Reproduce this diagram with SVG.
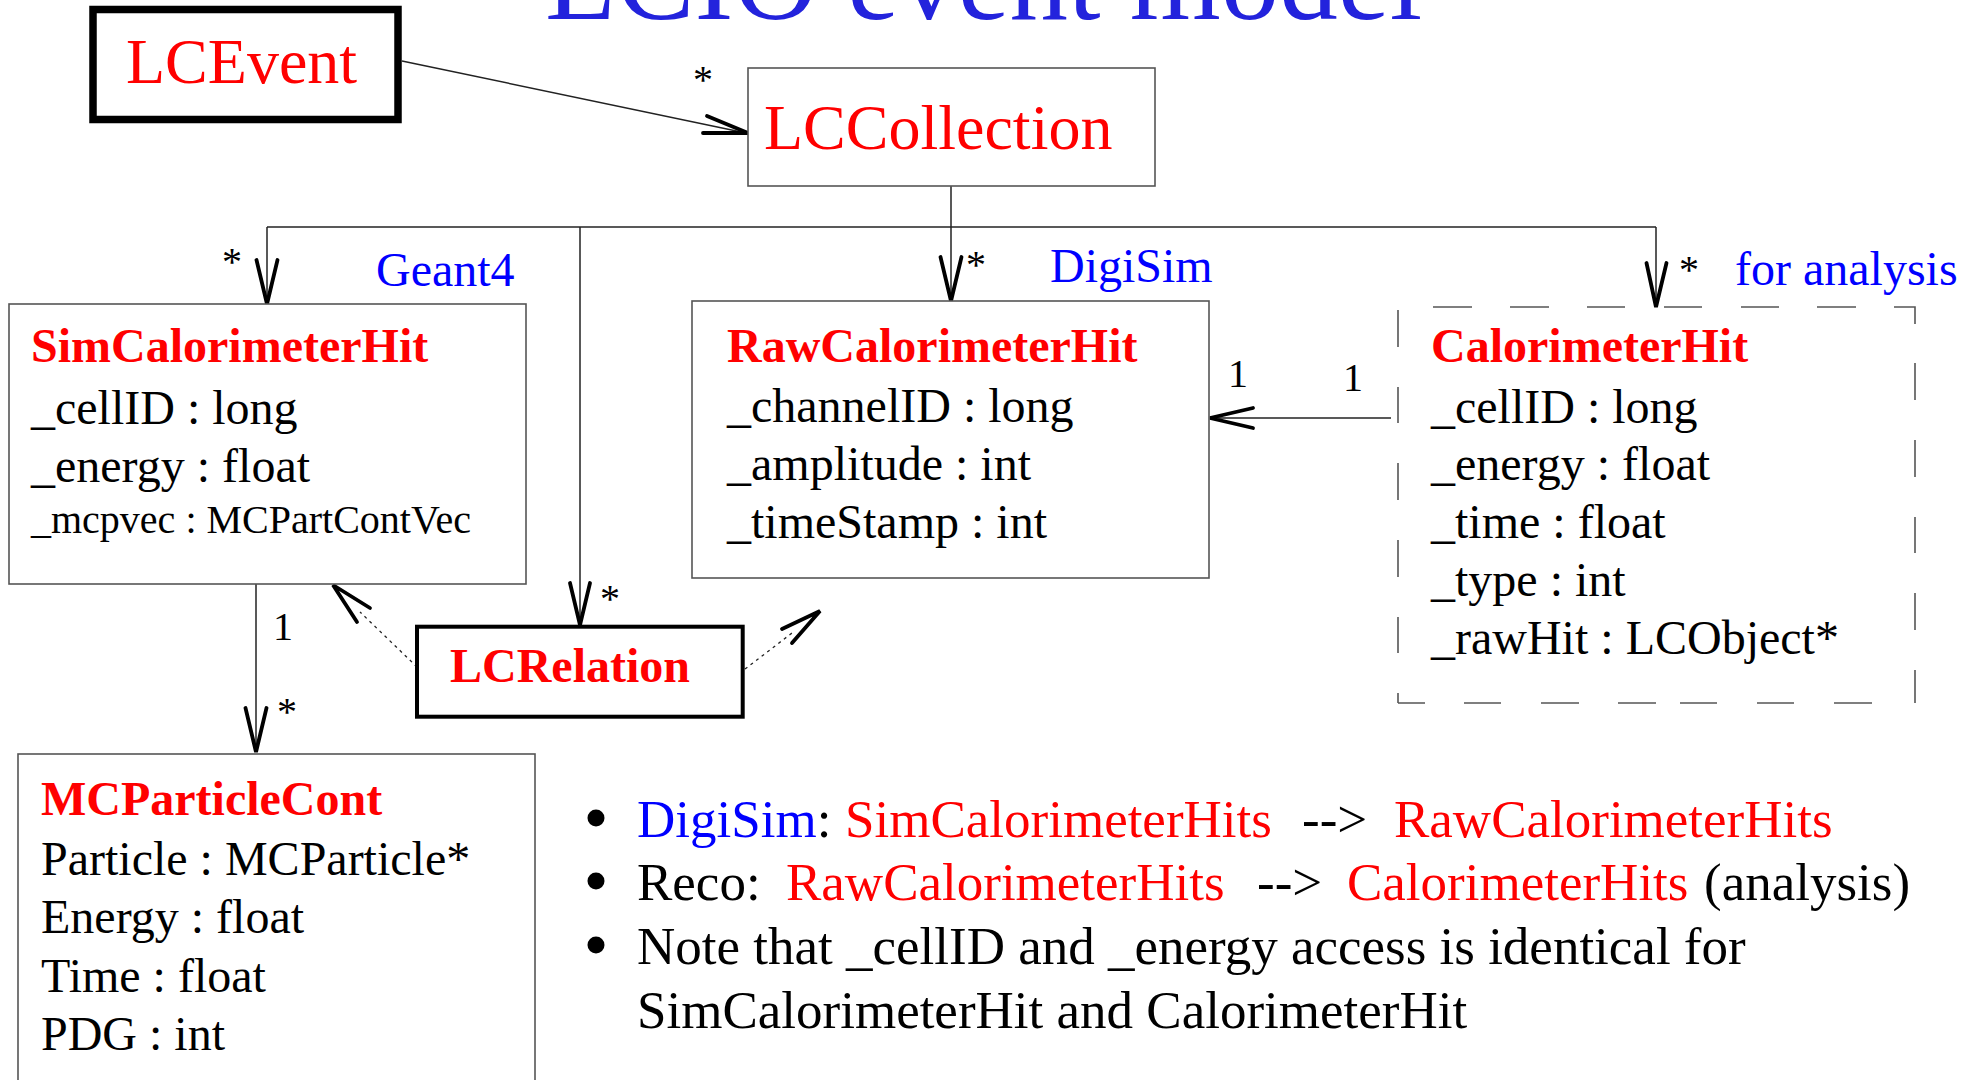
<svg xmlns="http://www.w3.org/2000/svg" width="1973" height="1080" viewBox="0 0 1973 1080">
<style>
text{font-family:"Liberation Serif","Times New Roman",serif;fill:#000}
.title{font-size:117px;fill:#2323dc}
.big{font-size:64px;fill:#ff0000}
.name{font-size:48px;font-weight:bold;fill:#ff0000}
.attr{font-size:48px}
.small{font-size:40px}
.lab{font-size:48px;fill:#0000ff}
.mult{font-size:40px}
.bul{font-size:53px}
.red{fill:#ff0000}
.blue{fill:#0000ff}
.box{fill:#fff;stroke:#555;stroke-width:1.6}
.thick{fill:#fff;stroke:#000}
.line{fill:none;stroke:#222;stroke-width:1.5}
.dot{fill:none;stroke:#222;stroke-width:1.3;stroke-dasharray:3 4}
.head{fill:none;stroke:#000;stroke-width:3.8;stroke-linecap:round;stroke-linejoin:miter}
.dash{fill:none;stroke:#555;stroke-width:1.6}
</style>
<rect width="1973" height="1080" fill="#fff"/>
<text class="title" x="545" y="19">LCIO event model</text>

<g id="connectors">
  <line class="line" x1="402" y1="61" x2="746" y2="133"/>
  <polyline class="head" points="707,116 748,133 703,133"/>
  <line class="line" x1="951" y1="186" x2="951" y2="227"/>
  <line class="line" x1="267" y1="227" x2="1656" y2="227"/>
  <line class="line" x1="267" y1="227" x2="267" y2="302"/>
  <polyline class="head" points="256.5,260 267,304 277.5,260"/>
  <line class="line" x1="580" y1="227" x2="580" y2="623"/>
  <polyline class="head" points="570,583 580,625 590,583"/>
  <line class="line" x1="951" y1="227" x2="951" y2="299"/>
  <polyline class="head" points="940.5,257 951,301 961.5,257"/>
  <line class="line" x1="1656" y1="227" x2="1656" y2="305"/>
  <polyline class="head" points="1646.5,263 1656,307 1666.5,263"/>
  <line class="line" x1="256" y1="584" x2="256" y2="750"/>
  <polyline class="head" points="245.5,708 256,752 266.5,708"/>
  <line class="line" x1="1391" y1="418" x2="1211" y2="418"/>
  <polyline class="head" points="1253,408 1210,418 1253,428"/>
  <line class="dot" x1="417" y1="667" x2="360" y2="612"/>
  <polyline class="head" points="357,622 333,585 370,608"/>
  <line class="dot" x1="745" y1="669" x2="792" y2="633"/>
  <polyline class="head" points="782,629 820,611 792,643"/>
  <text class="mult" x="693" y="93">*</text>
  <text class="mult" x="222" y="275">*</text>
  <text class="mult" x="966" y="278">*</text>
  <text class="mult" x="1679" y="283">*</text>
  <text class="mult" x="600" y="612">*</text>
  <text class="mult" x="277" y="725">*</text>
  <text class="mult" x="273" y="640">1</text>
  <text class="mult" x="1228" y="387">1</text>
  <text class="mult" x="1343" y="391">1</text>
  <text class="lab" x="376" y="286">Geant4</text>
  <text class="lab" x="1050" y="282">DigiSim</text>
  <text class="lab" x="1735" y="285">for analysis</text>
</g>

<g id="LCEvent">
  <rect class="thick" x="93" y="9.5" width="305" height="110" stroke-width="7.5"/>
  <text class="big" x="126" y="83">LCEvent</text>
</g>

<g id="LCCollection">
  <rect class="box" x="748" y="68" width="407" height="118"/>
  <text class="big" x="764" y="149">LCCollection</text>
</g>

<g id="SimCalorimeterHit">
  <rect class="box" x="9" y="304" width="517" height="280"/>
  <text class="name" x="31" y="362">SimCalorimeterHit</text>
  <text class="attr" x="31" y="424">_cellID : long</text>
  <text class="attr" x="31" y="482">_energy : float</text>
  <text class="small" x="31" y="533">_mcpvec : MCPartContVec</text>
</g>

<g id="RawCalorimeterHit">
  <rect class="box" x="692" y="301" width="517" height="277"/>
  <text class="name" x="727" y="362">RawCalorimeterHit</text>
  <text class="attr" x="727" y="422">_channelID : long</text>
  <text class="attr" x="727" y="480">_amplitude : int</text>
  <text class="attr" x="727" y="538">_timeStamp : int</text>
</g>

<g id="CalorimeterHit">
  <path class="dash" d="M1433,307H1472M1510,307H1549M1587,307H1625M1664,307H1702M1741,307H1779M1817,307H1856M1894,307H1915V324M1915,363V400M1915,440V477M1915,517V553M1915,593V630M1915,670V703M1398,703H1425M1464,703H1501M1541,703H1579M1618,703H1656M1680,703H1717M1757,703H1794M1834,703H1872M1398,310V347M1398,387V423M1398,463V500M1398,540V577M1398,617V653M1398,693V703"/>
  <text class="name" x="1431" y="362">CalorimeterHit</text>
  <text class="attr" x="1431" y="423">_cellID : long</text>
  <text class="attr" x="1431" y="480">_energy : float</text>
  <text class="attr" x="1431" y="538">_time : float</text>
  <text class="attr" x="1431" y="596">_type : int</text>
  <text class="attr" x="1431" y="654">_rawHit : LCObject*</text>
</g>

<g id="LCRelation">
  <rect class="thick" x="417" y="626.7" width="325.7" height="90" stroke-width="4"/>
  <text class="name" x="450" y="682">LCRelation</text>
</g>

<g id="MCParticleCont">
  <rect class="box" x="18" y="754" width="517" height="400"/>
  <text class="name" x="41" y="815">MCParticleCont</text>
  <text class="attr" x="41" y="875">Particle : MCParticle*</text>
  <text class="attr" x="41" y="933">Energy : float</text>
  <text class="attr" x="41" y="992">Time : float</text>
  <text class="attr" x="41" y="1050">PDG : int</text>
</g>

<g id="notes">
  <circle cx="596" cy="818" r="8.5"/>
  <circle cx="596" cy="881" r="8.5"/>
  <circle cx="596" cy="945" r="8.5"/>
  <text class="bul" y="837"><tspan x="637" class="blue">DigiSim</tspan><tspan>:</tspan><tspan x="845" class="red">SimCalorimeterHits</tspan><tspan x="1302">--&gt;</tspan><tspan x="1394" class="red">RawCalorimeterHits</tspan></text>
  <text class="bul" y="900"><tspan x="637">Reco:</tspan><tspan x="786" class="red">RawCalorimeterHits</tspan><tspan x="1257">--&gt;</tspan><tspan x="1347" class="red">CalorimeterHits</tspan><tspan x="1704">(analysis)</tspan></text>
  <text class="bul" x="637" y="964">Note that _cellID and _energy access is identical for</text>
  <text class="bul" x="637" y="1028">SimCalorimeterHit and CalorimeterHit</text>
</g>
</svg>
